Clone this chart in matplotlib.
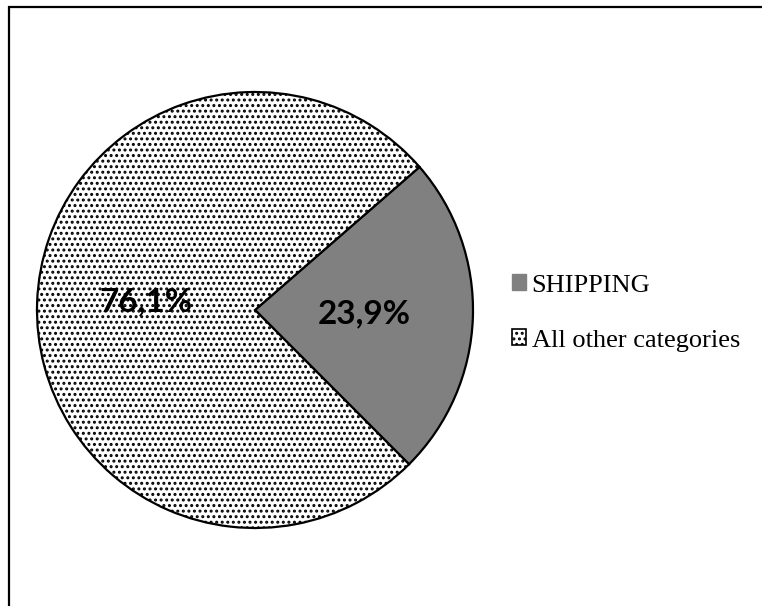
import matplotlib
matplotlib.use("Agg")
import matplotlib.pyplot as plt
import numpy as np
from matplotlib.patches import Rectangle, Patch

labels = ["SHIPPING", "All other categories"]
shares = [23.9, 76.1]
pct_text = ["23,9%", "76,1%"]

plt.rcParams["hatch.linewidth"] = 1.4
plt.rcParams["hatch.color"] = "#555555"

W, H = 762, 606
fig = plt.figure(figsize=(W / 100, H / 100), dpi=100)

# pie centred at (255, 310) px with radius 218 px
cx, cy, r = 255, 310, 218
ax = fig.add_axes([(cx - r) / W, (H - cy - r) / H, 2 * r / W, 2 * r / H])

wedges, _ = ax.pie(shares, startangle=41, counterclock=False, radius=1,
                   colors=["#808080", "white"],
                   wedgeprops=dict(edgecolor="black", linewidth=1.6))
wedges[1].set_hatch("...")
ax.set_xlim(-1, 1)
ax.set_ylim(-1, 1)
ax.set_aspect("equal")

# percentage labels half way along each wedge bisector
nudge = [0.0, 0.02]
for w, t, dy in zip(wedges, pct_text, nudge):
    ang = np.deg2rad((w.theta1 + w.theta2) / 2)
    ax.text(0.5 * np.cos(ang), 0.5 * np.sin(ang) + dy, t, ha="center", va="center",
            fontsize=24, fontweight="bold", family="Lato")

handles = [Patch(facecolor="#808080", edgecolor="#808080"),
           Patch(facecolor="white", edgecolor="black", hatch="...", linewidth=1.2)]
fig.legend(handles, labels, loc="center left",
           bbox_to_anchor=(488 / W, 1 - 313 / H), frameon=False,
           prop=dict(family="Liberation Serif", size=19),
           handlelength=0.55, handleheight=0.55, handletextpad=0.2,
           labelspacing=1.25)

# chart border (only top and left edges fall inside the image)
fig.add_artist(Rectangle((8.5 / W, -0.1), 1.2, 1 - 6.5 / H + 0.1,
                         transform=fig.transFigure, fill=False,
                         edgecolor="black", linewidth=1.6))

fig.savefig("out.png", dpi=100)
